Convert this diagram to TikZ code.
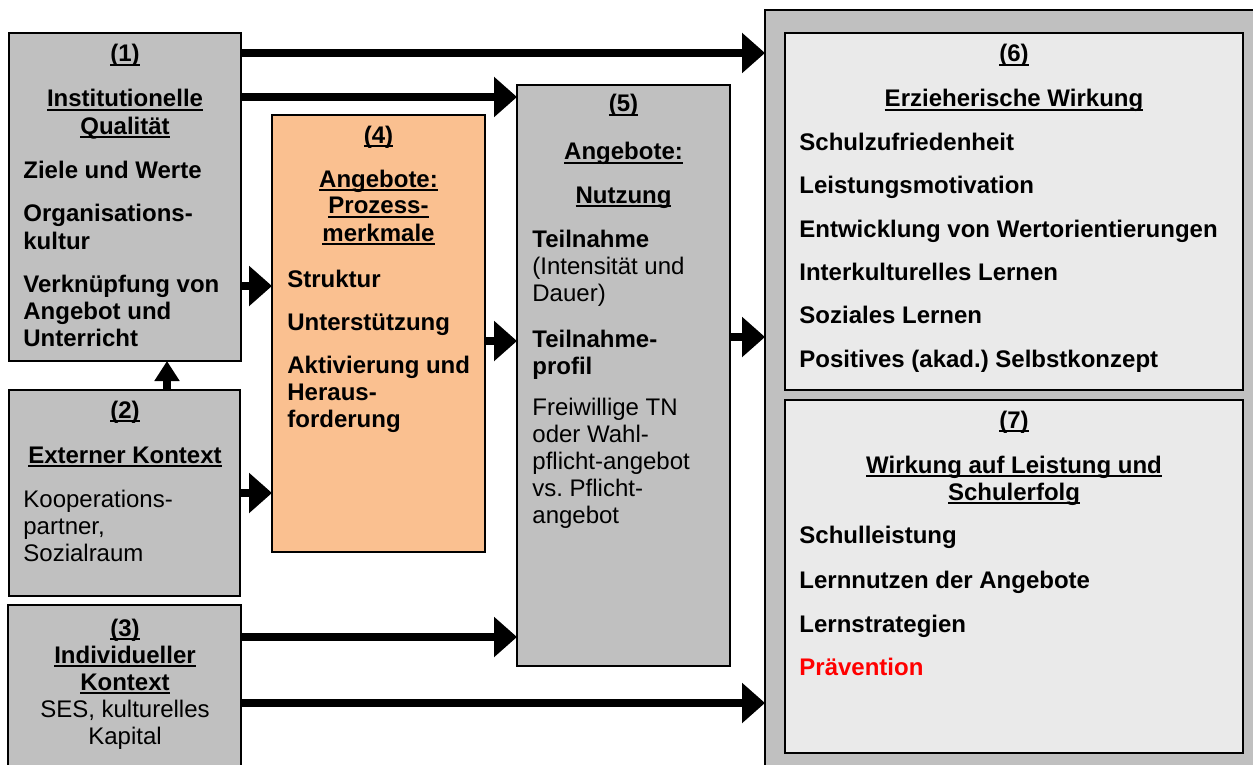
\documentclass[tikz,border=0pt]{standalone}
\usepackage{fontspec}
\setmainfont{Liberation Sans}
\usetikzlibrary{arrows.meta}
\definecolor{boxgray}{HTML}{C0C0C0}
\definecolor{paleggray}{HTML}{EAEAEA}
\definecolor{peach}{HTML}{FAC090}
\definecolor{alertred}{HTML}{FF0000}
\frenchspacing
\newcommand\hul[1]{\leavevmode\setbox0\hbox{#1}\rlap{\rule[-2pt]{\wd0}{1pt}}\box0}
\begin{document}
\begin{tikzpicture}[x=0.5pt,y=-0.5pt,
 box/.style={draw=black,line width=1pt,anchor=north west,outer sep=0pt,inner sep=0pt},
 arr/.style={line width=4pt,-{Triangle[length=11.5pt,width=19.5pt]}},
 varr/.style={line width=4pt,-{Triangle[length=10pt,width=12pt]}},
 txt/.style={inner sep=0pt,font=\fontsize{12}{13.5}\selectfont\bfseries},
 hd/.style={txt,anchor=base,align=center},
 bl/.style={txt,anchor=base west,align=left},
 nl/.style={bl,font=\fontsize{12}{13.5}\selectfont\mdseries},
 nc/.style={hd,font=\fontsize{12}{13.5}\selectfont\mdseries}]
\useasboundingbox (0,0) rectangle (1253,765);
\clip (0,0) rectangle (1253,765);
% boxes
\node[box,fill=boxgray,minimum width=250pt,minimum height=385pt] (out) at (765,10) {};
\node[box,fill=paleggray,minimum width=229pt,minimum height=178.5pt] (b6) at (785,33) {};
\node[box,fill=paleggray,minimum width=229pt,minimum height=176.5pt] (b7) at (785,400) {};
\node[box,fill=boxgray,minimum width=116pt,minimum height=164pt] (b1) at (9,33) {};
\node[box,fill=boxgray,minimum width=115.5pt,minimum height=103pt] (b2) at (9,390) {};
\node[box,fill=boxgray,minimum width=116.5pt,minimum height=87.5pt] (b3) at (8,605) {};
\node[box,fill=peach,minimum width=106.5pt,minimum height=218.5pt] (b4) at (272,115) {};
\node[box,fill=boxgray,minimum width=106.5pt,minimum height=290.5pt] (b5) at (517,85) {};
% arrows
\draw[arr] (b1.east |- 0,53) -- (out.west |- 0,53);
\draw[arr] (b1.east |- 0,97) -- (b5.west |- 0,97);
\draw[arr] (b1.east |- 0,286) -- (b4.west |- 0,286);
\draw[varr] (b2.north -| 167,0) -- (b1.south -| 167,0);
\draw[arr] (b2.east |- 0,493) -- (b4.west |- 0,493);
\draw[arr] (b4.east |- 0,341) -- (b5.west |- 0,341);
\draw[arr] (b5.east |- 0,337) -- (out.west |- 0,337);
\draw[arr] (b3.east |- 0,637) -- (b5.west |- 0,637);
\draw[arr] (b3.east |- 0,703) -- (out.west |- 0,703);
% box 1 (multi-line nodes are placed at the baseline of their last line)
\node[hd] (t1a) at (125,62) {\hul{(1)}};
\node[hd] (t1b) at (125,134) {\hul{Institutionelle}\\\hul{Qualität}};
\node[bl] (t1c) at (23,178) {Ziele und Werte};
\node[bl] (t1d) at (23,249) {Organisations-\\kultur};
\node[bl] (t1e) at (23,346) {Verknüpfung von\\Angebot und\\Unterricht};
% box 2
\node[hd] (t2a) at (125,418) {\hul{(2)}};
\node[hd] (t2b) at (125,463) {\hul{Externer Kontext}};
\node[nl] (t2c) at (23,561) {Kooperations-\\partner,\\Sozialraum};
% box 3
\node[hd] (t3a) at (125,636) {\hul{(3)}};
\node[hd] (t3b) at (125,690) {\hul{Individueller}\\\hul{Kontext}};
\node[nc] (t3c) at (125,744) {SES, kulturelles\\Kapital};
% box 4
\node[hd] (t4a) at (378.5,143) {\hul{(4)}};
\node[hd] (t4b) at (378.5,241) {\hul{Angebote:}\\\hul{Prozess-}\\\hul{merkmale}};
\node[bl] (t4c) at (287,287) {Struktur};
\node[bl] (t4d) at (287,330) {Unterstützung};
\node[bl] (t4e) at (287,427) {Aktivierung und\\Heraus-\\forderung};
% box 5
\node[hd] (t5a) at (623.5,112) {\hul{(5)}};
\node[hd] (t5b) at (623.5,160) {\hul{Angebote:}};
\node[hd] (t5c) at (623.5,203) {\hul{Nutzung}};
\node[bl] (t5d) at (532,301) {Teilnahme\\\mdseries(Intensität und\\\mdseries Dauer)};
\node[bl] (t5e) at (532,374) {Teilnahme-\\profil};
\node[nl] (t5f) at (532,523) {Freiwillige TN\\oder Wahl-\\pflicht-angebot\\vs. Pflicht-\\angebot};
% box 6
\node[hd] (t6a) at (1014,62) {\hul{(6)}};
\node[hd] (t6b) at (1014,107) {\hul{Erzieherische Wirkung}};
\node[bl] (t6c) at (799,150) {Schulzufriedenheit};
\node[bl] (t6d) at (799,193) {Leistungsmotivation};
\node[bl] (t6e) at (799,237) {Entwicklung von Wertorientierungen};
\node[bl] (t6f) at (799,280) {Interkulturelles Lernen};
\node[bl] (t6g) at (799,323) {Soziales Lernen};
\node[bl] (t6h) at (799,367) {Positives (akad.) Selbstkonzept};
% box 7
\node[hd] (t7a) at (1014,428) {\hul{(7)}};
\node[hd] (t7b) at (1014,500) {\hul{Wirkung auf Leistung und}\\\hul{Schulerfolg}};
\node[bl] (t7c) at (799,543) {Schulleistung};
\node[bl] (t7d) at (799,588) {Lernnutzen der Angebote};
\node[bl] (t7e) at (799,632) {Lernstrategien};
\node[bl,text=alertred] (t7f) at (799,675) {Prävention};
\end{tikzpicture}
\end{document}
